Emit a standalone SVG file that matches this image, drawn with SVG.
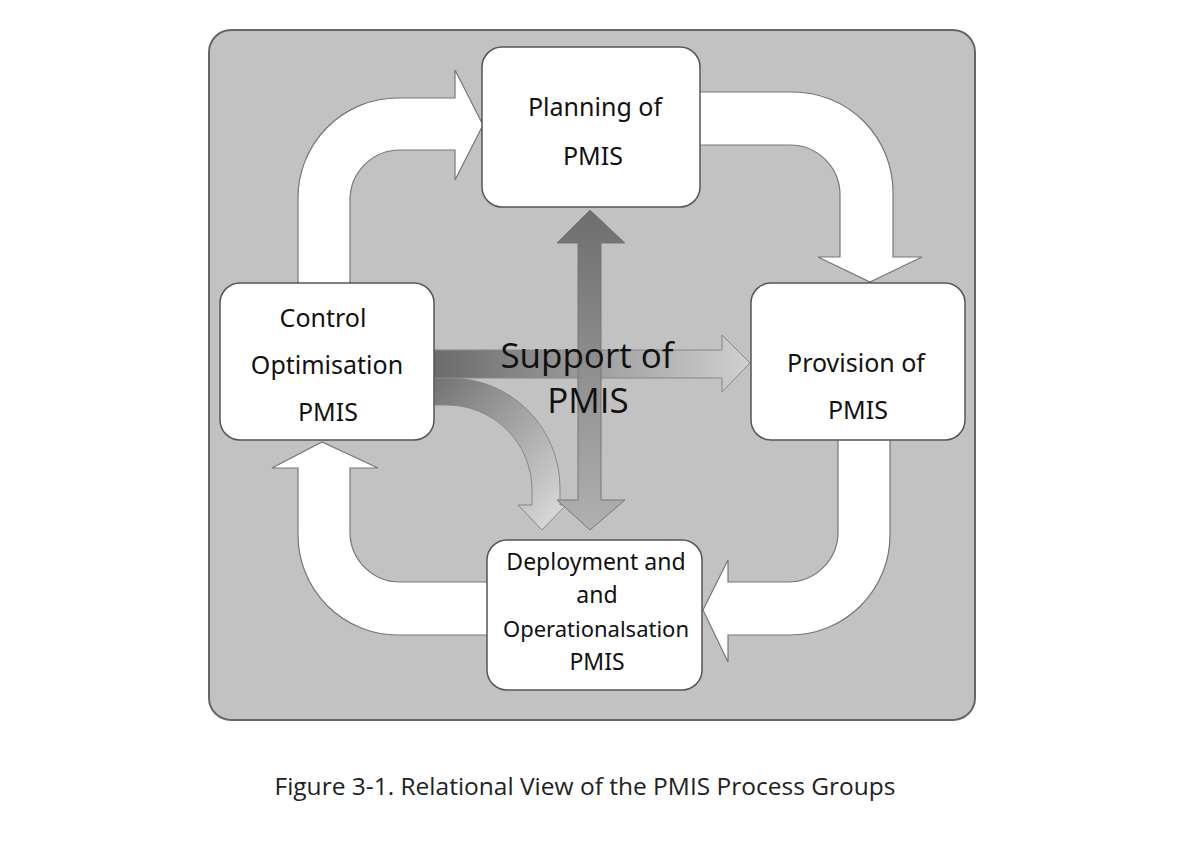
<svg xmlns="http://www.w3.org/2000/svg" width="1184" height="864" viewBox="0 0 1184 864">
<defs>
<style>
.box{fill:#fff;stroke:#555;stroke-width:1.5}
.wa{fill:#fff;stroke:#777;stroke-width:1.2}
.t{font-family:"Noto Sans","Open Sans",sans-serif;font-size:25px;fill:#111;text-anchor:middle}
</style>
<linearGradient id="gv" x1="0" y1="0" x2="0" y2="1"><stop offset="0" stop-color="#6e6e6e"/><stop offset="1" stop-color="#b0b0b0"/></linearGradient>
<linearGradient id="gh" x1="0" y1="0" x2="1" y2="0"><stop offset="0" stop-color="#6a6a6a"/><stop offset="1" stop-color="#d0d0d0"/></linearGradient>
<linearGradient id="gc" x1="0" y1="0" x2="1" y2="1"><stop offset="0" stop-color="#707070"/><stop offset="1" stop-color="#e0e0e0"/></linearGradient>
</defs>
<rect width="1184" height="864" fill="#fff"/>
<rect x="209" y="30" width="766" height="690" rx="22" fill="#c2c2c2" stroke="#666" stroke-width="2"/>
<g id="connectors">
<path class="wa" d="M298,290 V200 A100,100 0 0 1 398,98 H455 V70 L483,125 L455,180 V150 H400 A50,50 0 0 0 350,200 V290 Z"/>
<path class="wa" d="M695,92 H793 A100,100 0 0 1 893,192 V257 H922 L870,282 L818,257 H840 V195 A50,50 0 0 0 790,145 H695 Z"/>
<path class="wa" d="M890,435 V535 A100,100 0 0 1 790,635 H728 V662 L703,610 L728,560 V582 H788 A50,50 0 0 0 838,532 V435 Z"/>
<path class="wa" d="M492,635 H398 A100,100 0 0 1 298,535 V468 H272 L322,442 L378,468 H350 V532 A50,50 0 0 0 400,582 H492 Z"/>
<path d="M430,378 H450 A110,110 0 0 1 560,488 V505 H566 L542,530 L518,505 H532 V490 A85,85 0 0 0 447,405 H430 Z" fill="url(#gc)" stroke="#888"/>
<path d="M430,350 H722 V335 L750,363 L722,392 V378 H430 Z" fill="url(#gh)" stroke="#888"/>
<path d="M590,210 L625,243 H601 V500 H625 L590,530 L557,500 H578 V243 H557 Z" fill="url(#gv)" stroke="#777"/>
</g>
<g id="planning"><rect class="box" x="482" y="47" width="218" height="160" rx="20"/><text class="t" x="595" y="116">Planning of</text><text class="t" x="593" y="165">PMIS</text></g>
<g id="control"><rect class="box" x="220" y="283" width="214" height="157" rx="20"/><text class="t" x="323" y="327">Control</text><text class="t" x="327" y="374">Optimisation</text><text class="t" x="328" y="421">PMIS</text></g>
<g id="provision"><rect class="box" x="751" y="283" width="214" height="157" rx="20"/><text class="t" x="856" y="372">Provision of</text><text class="t" x="858" y="419">PMIS</text></g>
<g id="deployment"><rect class="box" x="487" y="540" width="215" height="150" rx="20"/><text class="t" x="596" y="570" style="font-size:23px">Deployment and</text><text class="t" x="597" y="603" style="font-size:23px">and</text><text class="t" x="596" y="637" style="font-size:22px">Operationalsation</text><text class="t" x="597" y="670" style="font-size:23px">PMIS</text></g>
<g id="support"><text x="587" y="368" style="font-family:'Open Sans',sans-serif;font-size:35px;fill:#111;text-anchor:middle">Support of</text><text x="588" y="413" style="font-family:'Open Sans',sans-serif;font-size:35px;fill:#111;text-anchor:middle">PMIS</text></g>
<text x="585" y="795" style="font-family:'Open Sans',sans-serif;font-size:24.5px;fill:#222;text-anchor:middle">Figure 3-1. Relational View of the PMIS Process Groups</text>
</svg>
